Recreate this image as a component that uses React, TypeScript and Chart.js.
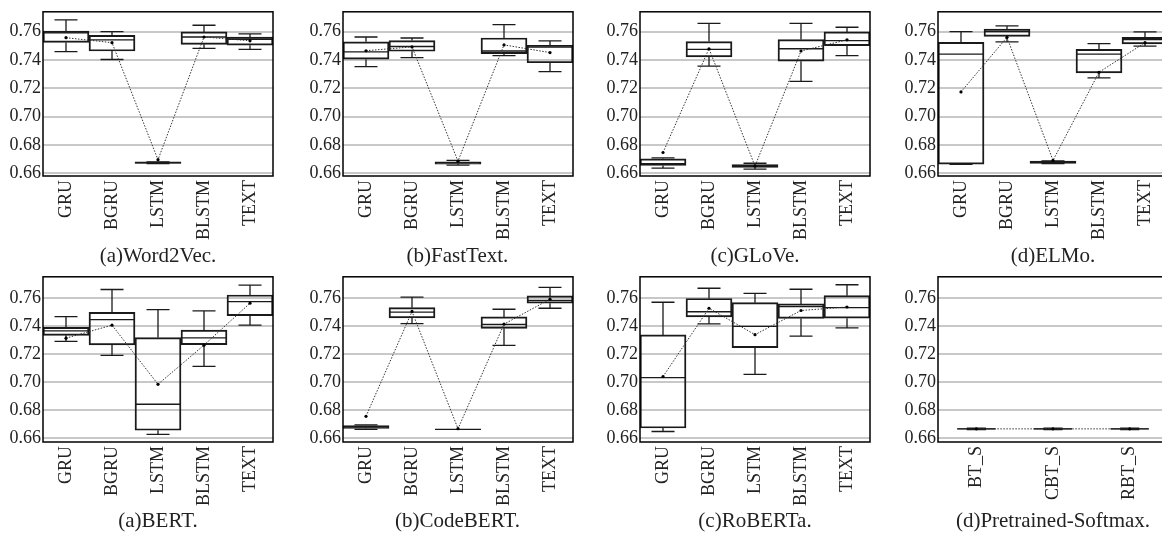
import React, { useEffect, useRef } from "react";
import { Chart, registerables } from "chart.js";

Chart.register(...registerables);

// ---------- DATA ----------
const METHODS = ["GRU", "BGRU", "LSTM", "BLSTM", "TEXT"];
const SOFTMAX_MODELS = ["BT_S", "CBT_S", "RBT_S"];
const Y_TICKS = [0.66, 0.68, 0.7, 0.72, 0.74, 0.76];

const CAPTIONS = [
  "(a)Word2Vec.",
  "(b)FastText.",
  "(c)GLoVe.",
  "(d)ELMo.",
  "(a)BERT.",
  "(b)CodeBERT.",
  "(c)RoBERTa.",
  "(d)Pretrained-Softmax.",
];

// each entry: [lower whisker, Q1, median, Q3, upper whisker]
const word2vecBoxes = [
  [0.7459, 0.7524, 0.7591, 0.7604, 0.7683],
  [0.7403, 0.7463, 0.7542, 0.7573, 0.76],
  [0.6668, 0.6668, 0.6674, 0.668, 0.668],
  [0.7481, 0.751, 0.7562, 0.7598, 0.7645],
  [0.7474, 0.7504, 0.7546, 0.7562, 0.7584],
];
const word2vecMeans = [0.7557, 0.7522, 0.6695, 0.7562, 0.7535];

const fastTextBoxes = [
  [0.7353, 0.7405, 0.7457, 0.7528, 0.7562],
  [0.7416, 0.7461, 0.7495, 0.7537, 0.7555],
  [0.6657, 0.6664, 0.6674, 0.668, 0.669],
  [0.743, 0.7445, 0.7463, 0.7555, 0.7649],
  [0.7317, 0.738, 0.749, 0.7504, 0.7535],
];
const fastTextMeans = [0.7465, 0.7492, 0.6685, 0.7506, 0.7452];

const gloveBoxes = [
  [0.6636, 0.6654, 0.6667, 0.6701, 0.6708],
  [0.7356, 0.7421, 0.7474, 0.753, 0.7658],
  [0.6629, 0.664, 0.6649, 0.6661, 0.667],
  [0.7248, 0.7391, 0.7479, 0.7544, 0.7658],
  [0.743, 0.7501, 0.7537, 0.7598, 0.7631],
];
const gloveMeans = [0.6746, 0.7479, 0.665, 0.7463, 0.7542];

const elmoBoxes = [
  [0.6663, 0.6663, 0.7441, 0.7524, 0.76],
  [0.7528, 0.7566, 0.76, 0.7618, 0.764],
  [0.6668, 0.6668, 0.6677, 0.6686, 0.6686],
  [0.7273, 0.7309, 0.7441, 0.7474, 0.7515],
  [0.7497, 0.7513, 0.7544, 0.756, 0.7598],
];
const elmoMeans = [0.7174, 0.756, 0.669, 0.7313, 0.7522];

const bertBoxes = [
  [0.7293, 0.7336, 0.7368, 0.7393, 0.747],
  [0.7193, 0.7268, 0.7448, 0.75, 0.7664],
  [0.6627, 0.6657, 0.6843, 0.732, 0.752],
  [0.7114, 0.727, 0.7318, 0.7373, 0.7511],
  [0.7409, 0.7477, 0.7577, 0.7625, 0.7695],
];
const bertMeans = [0.7316, 0.7409, 0.6986, 0.7266, 0.7566];

const codebertBoxes = [
  [0.6664, 0.667, 0.6682, 0.6691, 0.6695],
  [0.742, 0.7461, 0.7502, 0.7534, 0.7609],
  [0.6664, 0.6664, 0.6664, 0.6664, 0.6664],
  [0.7264, 0.7386, 0.7414, 0.7468, 0.7523],
  [0.753, 0.7566, 0.7586, 0.7618, 0.768],
];
const codebertMeans = [0.6757, 0.7507, 0.6668, 0.7416, 0.7595];

const robertaBoxes = [
  [0.6648, 0.6673, 0.7034, 0.7339, 0.7573],
  [0.7418, 0.7468, 0.7505, 0.76, 0.7673],
  [0.7057, 0.7248, 0.74, 0.757, 0.7636],
  [0.733, 0.7457, 0.7541, 0.7561, 0.7666],
  [0.7389, 0.7459, 0.7534, 0.762, 0.7698],
];
const robertaMeans = [0.7041, 0.753, 0.7341, 0.7514, 0.7539];

const softmaxBoxes = [
  [0.6662, 0.6662, 0.6667, 0.6672, 0.6672],
  [0.6662, 0.6662, 0.6667, 0.6672, 0.6672],
  [0.6662, 0.6662, 0.6667, 0.6672, 0.6672],
];
const softmaxMeans = [0.6667, 0.6667, 0.6667];

// ---------- LAYOUT ----------
const FONT = "'Liberation Serif', 'DejaVu Serif', serif";
const COL_LEFT = [43, 342.5, 640, 938];
const PLOT_W = 230;
const ROWS = [
  { top: 3, h: 173, yMin: 0.658, yMax: 0.774, captionY: 255 },
  { top: 268, h: 174, yMin: 0.6573, yMax: 0.7755, captionY: 520 },
];
const Y_AXIS_W = 46;
const X_AXIS_H = 72;
const PAD_T = 4;
const PAD_R = 4;

type PanelProps = {
  labels: string[];
  boxes: number[][];
  means: number[];
  barPct: number;
  left: number;
  row: (typeof ROWS)[number];
  caption: string;
};

function Panel({ labels, boxes, means, barPct, left, row, caption }: PanelProps) {
  const ref = useRef<HTMLCanvasElement | null>(null);
  const cw = Y_AXIS_W + PLOT_W + PAD_R;
  const ch = PAD_T + row.h + X_AXIS_H;

  useEffect(() => {
    if (!ref.current) return;
    const decor = {
      id: "boxDecor",
      afterDatasetDraw(chart: any, args: any) {
        if (args.index !== 0) return;
        const { ctx, scales } = chart;
        const xs = scales.x;
        const ys = scales.y;
        const meta = chart.getDatasetMeta(0);
        ctx.save();
        ctx.strokeStyle = "#1a1a1a";
        ctx.lineWidth = 1.3;
        boxes.forEach((b, i) => {
          const el: any = meta.data[i];
          const cx = xs.getPixelForValue(i);
          const hw = el.width / 2;
          const [lo, q1, med, q3, hi] = b.map((v) => ys.getPixelForValue(v));
          ctx.beginPath();
          ctx.moveTo(cx, q3);
          ctx.lineTo(cx, hi);
          ctx.moveTo(cx, q1);
          ctx.lineTo(cx, lo);
          ctx.moveTo(cx - hw / 2, hi);
          ctx.lineTo(cx + hw / 2, hi);
          ctx.moveTo(cx - hw / 2, lo);
          ctx.lineTo(cx + hw / 2, lo);
          ctx.moveTo(cx - hw, med);
          ctx.lineTo(cx + hw, med);
          ctx.stroke();
        });
        ctx.restore();
      },
      afterDraw(chart: any) {
        const { ctx, chartArea } = chart;
        ctx.save();
        ctx.strokeStyle = "#000";
        ctx.lineWidth = 1.5;
        ctx.strokeRect(
          chartArea.left,
          chartArea.top,
          chartArea.right - chartArea.left,
          chartArea.bottom - chartArea.top
        );
        ctx.restore();
      },
    };

    const chart = new Chart(ref.current, {
      type: "bar",
      data: {
        labels,
        datasets: [
          {
            type: "bar",
            data: boxes.map((b) => [b[1], b[3]]) as any,
            backgroundColor: "rgba(0,0,0,0)",
            borderColor: "#1a1a1a",
            borderWidth: 1.3,
            borderSkipped: false,
            barPercentage: barPct,
            categoryPercentage: 1,
            order: 2,
          } as any,
          {
            type: "line",
            data: means,
            borderColor: "#333",
            borderWidth: 1,
            borderDash: [1.5, 1.5],
            pointRadius: 1.6,
            pointBackgroundColor: "#000",
            pointBorderWidth: 0,
            fill: false,
            tension: 0,
            order: 1,
          } as any,
        ],
      },
      options: {
        animation: false,
        responsive: false,
        events: [],
        layout: { padding: { top: PAD_T, right: PAD_R, left: 0, bottom: 0 } },
        plugins: {
          legend: { display: false },
          tooltip: { enabled: false },
          title: { display: false },
        },
        scales: {
          x: {
            type: "category",
            offset: true,
            grid: { display: false, drawTicks: false },
            border: { display: false },
            ticks: {
              autoSkip: false,
              minRotation: 90,
              maxRotation: 90,
              padding: 4,
              color: "#222",
              font: { family: FONT, size: 18 },
            },
            afterFit(scale: any) {
              scale.height = X_AXIS_H;
            },
          },
          y: {
            type: "linear",
            min: row.yMin,
            max: row.yMax,
            grid: { color: "#c8c8c8", lineWidth: 2, drawTicks: false },
            border: { display: false },
            ticks: {
              padding: 2,
              color: "#222",
              font: { family: FONT, size: 18 },
              callback: (v: any) => Number(v).toFixed(2),
            },
            afterBuildTicks(scale: any) {
              scale.ticks = Y_TICKS.map((v) => ({ value: v }));
            },
            afterFit(scale: any) {
              scale.width = Y_AXIS_W;
            },
          },
        },
      } as any,
      plugins: [decor],
    });
    return () => chart.destroy();
  }, []);

  return (
    <>
      <canvas
        ref={ref}
        width={cw}
        height={ch}
        style={{
          position: "absolute",
          left: left - Y_AXIS_W,
          top: row.top - PAD_T,
          width: cw,
          height: ch,
          display: "block",
        }}
      />
      <div
        style={{
          position: "absolute",
          left,
          width: PLOT_W,
          top: row.captionY - 13,
          height: 26,
          lineHeight: "26px",
          textAlign: "center",
          fontFamily: FONT,
          fontSize: 21,
          color: "#222",
          whiteSpace: "nowrap",
        }}
      >
        {caption}
      </div>
    </>
  );
}

export default function App() {
  const panels = [
    { labels: METHODS, boxes: word2vecBoxes, means: word2vecMeans, barPct: 1 },
    { labels: METHODS, boxes: fastTextBoxes, means: fastTextMeans, barPct: 1 },
    { labels: METHODS, boxes: gloveBoxes, means: gloveMeans, barPct: 1 },
    { labels: METHODS, boxes: elmoBoxes, means: elmoMeans, barPct: 1 },
    { labels: METHODS, boxes: bertBoxes, means: bertMeans, barPct: 1 },
    { labels: METHODS, boxes: codebertBoxes, means: codebertMeans, barPct: 1 },
    { labels: METHODS, boxes: robertaBoxes, means: robertaMeans, barPct: 1 },
    { labels: SOFTMAX_MODELS, boxes: softmaxBoxes, means: softmaxMeans, barPct: 0.5 },
  ];
  return (
    <div
      style={{
        position: "absolute",
        left: 0,
        top: 0,
        width: 1162,
        height: 537,
        overflow: "hidden",
        background: "#fff",
      }}
    >
      {panels.map((p, i) => (
        <Panel
          key={i}
          labels={p.labels}
          boxes={p.boxes}
          means={p.means}
          barPct={p.barPct}
          left={COL_LEFT[i % 4]}
          row={ROWS[Math.floor(i / 4)]}
          caption={CAPTIONS[i]}
        />
      ))}
    </div>
  );
}
